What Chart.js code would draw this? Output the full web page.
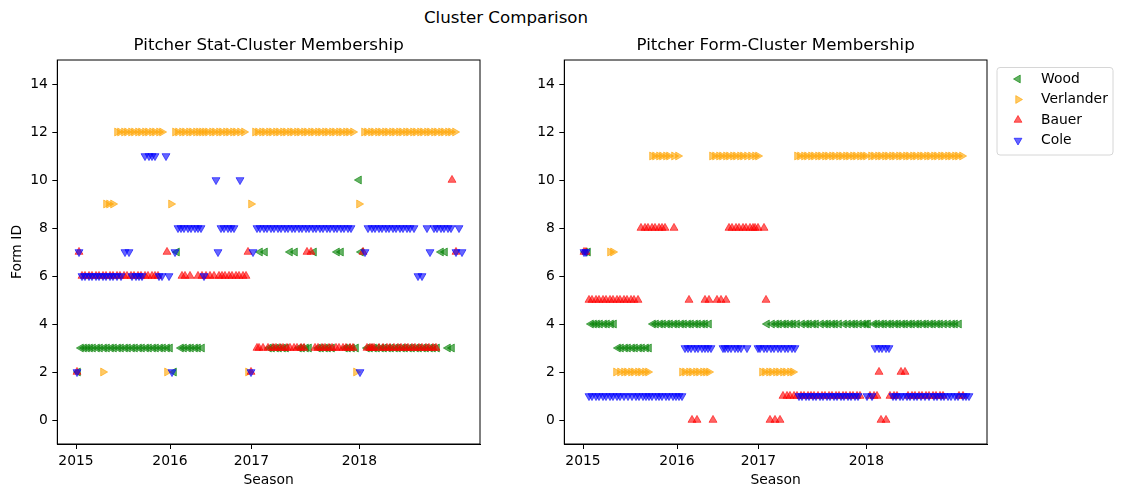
<!DOCTYPE html>
<html>
<head>
<meta charset="utf-8">
<script src="https://cdn.jsdelivr.net/npm/chart.js@4.4.1/dist/chart.umd.min.js"></script>
<style>
html, body { margin: 0; padding: 0; background: #fff; width: 1123px; height: 498px; overflow: hidden; }
#sup { position: absolute; left: 0; top: 8px; width: 1012px; text-align: center; font-family: 'DejaVu Sans', sans-serif; font-size: 16.67px; color: #000; }
#w1 { position: absolute; left: 0; top: 0; width: 500px; height: 498px; }
#w2 { position: absolute; left: 500px; top: 0; width: 623px; height: 498px; }
</style>
</head>
<body>
<div id="sup">Cluster Comparison</div>
<div id="w1"><canvas id="c1"></canvas></div>
<div id="w2"><canvas id="c2"></canvas></div>
<script>
// ---------- data ----------
const seasonTicks = [-2, 92, 173.3, 281.3];
const seasonLabels = ['2015', '2016', '2017', '2018'];
const formTicks = [0, 2, 4, 6, 8, 10, 12, 14];
const pitcherNames = ['Wood', 'Verlander', 'Bauer', 'Cole'];

// start positions (season-ordered game index) for each pitcher
const woodX = [
  0, 3, 6, 9, 12, 15, 19, 22, 26, 29,
  33, 36, 40, 43, 47, 50, 54, 57, 61, 64,
  68, 71, 75, 78, 82, 85, 89, 92,
  96, 99,
  103, 106, 110, 113, 117, 120, 124,
  182, 187,
  191, 194, 198, 201, 205, 208,
  212, 217,
  221, 224, 228, 231,
  236,
  240, 243, 247, 250, 254,
  259, 263,
  267, 270, 274, 278,
  281,
  283,
  289, 292, 296, 299, 303, 306, 310, 313, 317, 320, 324, 327, 331, 334, 338, 341, 345, 348, 352, 355, 359,
  363, 367,
  370, 374
];
const woodStat = [
  2, 3, 3, 3, 3, 3, 3, 3, 3, 3,
  3, 3, 3, 3, 3, 3, 3, 3, 3, 3,
  3, 3, 3, 3, 3, 3, 3, 3,
  2, 7,
  3, 3, 3, 3, 3, 3, 3,
  7, 7,
  3, 3, 3, 3, 3, 3,
  7, 7,
  3, 3, 3, 3,
  7,
  3, 3, 3, 3, 3,
  7, 7,
  3, 3, 3, 3,
  10,
  7,
  3, 3, 3, 3, 3, 3, 3, 3, 3, 3, 3, 3, 3, 3, 3, 3, 3, 3, 3, 3, 3,
  7, 7,
  3, 3
];
const woodForm = [
  7, 7, 4, 4, 4, 4, 4, 4, 4, 4,
  3, 3, 3, 3, 3, 3, 3, 3, 3, 3,
  4, 4, 4, 4, 4, 4, 4, 4,
  4, 4,
  4, 4, 4, 4, 4, 4, 4,
  4, 4,
  4, 4, 4, 4, 4, 4,
  4, 4,
  4, 4, 4, 4,
  4,
  4, 4, 4, 4, 4,
  4, 4,
  4, 4, 4, 4,
  4,
  4,
  4, 4, 4, 4, 4, 4, 4, 4, 4, 4, 4, 4, 4, 4, 4, 4, 4, 4, 4, 4, 4,
  4, 4,
  4, 4
];

const verlanderX = [
  25, 28, 31, 35,
  39, 42, 46, 49, 53, 56, 60, 63,
  67, 70, 74, 77, 81, 84,
  89, 93,
  97, 100, 104, 107, 111, 114, 118, 121, 124,
  127, 130, 134, 137, 141, 144, 148, 151, 155, 158, 162, 166,
  170, 173,
  177, 180, 184, 187, 191, 194, 198, 201, 205, 208,
  212, 215, 219, 222, 226, 229, 233, 236, 240, 243, 247, 250, 254, 257, 261, 264, 268, 271, 275,
  278, 281,
  286, 289, 293, 296, 300, 303, 307, 310, 314, 317, 321, 324, 328, 331, 335, 338, 342, 345, 349, 352, 356, 359, 363, 366, 370, 373, 377
];
const verlanderStat = [
  2, 9, 9, 9,
  12, 12, 12, 12, 12, 12, 12, 12,
  12, 12, 12, 12, 12, 12,
  2, 9,
  12, 12, 12, 12, 12, 12, 12, 12, 12,
  12, 12, 12, 12, 12, 12, 12, 12, 12, 12, 12, 12,
  2, 9,
  12, 12, 12, 12, 12, 12, 12, 12, 12, 12,
  12, 12, 12, 12, 12, 12, 12, 12, 12, 12, 12, 12, 12, 12, 12, 12, 12, 12, 12,
  2, 9,
  12, 12, 12, 12, 12, 12, 12, 12, 12, 12, 12, 12, 12, 12, 12, 12, 12, 12, 12, 12, 12, 12, 12, 12, 12, 12, 12
];
const verlanderForm = [
  7, 7, 2, 2,
  2, 2, 2, 2, 2, 2, 2, 2,
  11, 11, 11, 11, 11, 11,
  11, 11,
  2, 2, 2, 2, 2, 2, 2, 2, 2,
  11, 11, 11, 11, 11, 11, 11, 11, 11, 11, 11, 11,
  11, 11,
  2, 2, 2, 2, 2, 2, 2, 2, 2, 2,
  11, 11, 11, 11, 11, 11, 11, 11, 11, 11, 11, 11, 11, 11, 11, 11, 11, 11, 11,
  11, 11,
  11, 11, 11, 11, 11, 11, 11, 11, 11, 11, 11, 11, 11, 11, 11, 11, 11, 11, 11, 11, 11, 11, 11, 11, 11, 11, 11
];

const bauerX = [
  -1, 1,
  4, 7, 11, 14, 18, 21, 25, 28, 32, 35, 39, 42, 46, 49, 53,
  56, 60, 63, 67, 70, 74, 77, 80,
  89,
  104,
  107, 112,
  120, 124,
  128,
  132, 136, 141,
  144, 147, 151, 154, 158, 161, 165, 168,
  170, 173,
  179,
  181,
  185, 190, 195,
  198, 202, 205, 209, 212, 216, 219, 223, 226,
  229, 233,
  237, 240, 244, 247, 251, 254, 258, 261, 265, 268, 272, 275,
  285,
  289, 292,
  294,
  296, 301,
  305, 309, 312,
  316, 320,
  323, 327, 330, 334, 337, 341, 344, 348, 351, 355, 358,
  374, 378
];
const bauerStat = [
  2, 7,
  6, 6, 6, 6, 6, 6, 6, 6, 6, 6, 6, 6, 6, 6, 6,
  6, 6, 6, 6, 6, 6, 6, 6,
  7,
  6,
  6, 6,
  6, 6,
  6,
  6, 6, 6,
  6, 6, 6, 6, 6, 6, 6, 6,
  7, 2,
  3,
  3,
  3, 3, 3,
  3, 3, 3, 3, 3, 3, 3, 3, 3,
  7, 7,
  3, 3, 3, 3, 3, 3, 3, 3, 3, 3, 3, 3,
  7,
  3, 3,
  3,
  3, 3,
  3, 3, 3,
  3, 3,
  3, 3, 3, 3, 3, 3, 3, 3, 3, 3, 3,
  10, 7
];
const bauerForm = [
  7, 7,
  5, 5, 5, 5, 5, 5, 5, 5, 5, 5, 5, 5, 5, 5, 5,
  8, 8, 8, 8, 8, 8, 8, 8,
  8,
  5,
  0, 0,
  5, 5,
  0,
  5, 5, 5,
  8, 8, 8, 8, 8, 8, 8, 8,
  8, 8,
  8,
  5,
  0, 0, 0,
  1, 1, 1, 1, 1, 1, 1, 1, 1,
  1, 1,
  1, 1, 1, 1, 1, 1, 1, 1, 1, 1, 1, 1,
  1,
  1, 1,
  2,
  0, 0,
  1, 1, 1,
  2, 2,
  1, 1, 1, 1, 1, 1, 1, 1, 1, 1, 1,
  1, 1
];

const coleX = [
  -1, 1,
  4, 7, 11, 14, 18, 21, 25, 28, 32, 35, 39, 43,
  47, 51,
  54, 58, 61, 64,
  67, 71, 74, 77,
  81, 84,
  88,
  91,
  94,
  97,
  100, 103, 106, 110, 113, 117, 120, 123,
  126,
  138,
  140,
  143, 146, 150, 153, 156,
  162,
  173,
  175,
  179, 182, 186, 189, 193, 196, 200, 203, 207, 210, 214, 217, 221, 224, 228, 231, 235, 238, 242, 245, 249, 252, 256, 259, 263, 266, 270, 273,
  282,
  287,
  290, 294, 297, 301, 304, 308, 311, 315, 318, 322, 325, 329, 332, 336,
  340, 344,
  349,
  352,
  356, 359, 363, 366, 370, 373,
  378,
  381,
  384
];
const coleStat = [
  2, 7,
  6, 6, 6, 6, 6, 6, 6, 6, 6, 6, 6, 6,
  7, 7,
  6, 6, 6, 6,
  11, 11, 11, 11,
  6, 6,
  11,
  6,
  2,
  7,
  8, 8, 8, 8, 8, 8, 8, 8,
  6,
  10,
  7,
  8, 8, 8, 8, 8,
  10,
  2,
  7,
  8, 8, 8, 8, 8, 8, 8, 8, 8, 8, 8, 8, 8, 8, 8, 8, 8, 8, 8, 8, 8, 8, 8, 8, 8, 8, 8, 8,
  2,
  7,
  8, 8, 8, 8, 8, 8, 8, 8, 8, 8, 8, 8, 8, 8,
  6, 6,
  8,
  7,
  8, 8, 8, 8, 8, 8,
  7,
  8,
  7
];
const coleForm = [
  7, 7,
  1, 1, 1, 1, 1, 1, 1, 1, 1, 1, 1, 1,
  1, 1,
  1, 1, 1, 1,
  1, 1, 1, 1,
  1, 1,
  1,
  1,
  1,
  1,
  3, 3, 3, 3, 3, 3, 3, 3,
  3,
  3,
  3,
  3, 3, 3, 3, 3,
  3,
  3,
  3,
  3, 3, 3, 3, 3, 3, 3, 3, 3, 3, 1, 1, 1, 1, 1, 1, 1, 1, 1, 1, 1, 1, 1, 1, 1, 1, 1, 1,
  1,
  1,
  3, 3, 3, 3, 3, 1, 1, 1, 1, 1, 1, 1, 1, 1,
  1, 1,
  1,
  1,
  1, 1, 1, 1, 1, 1,
  1,
  1,
  1
];

// ---------- styles ----------
const pitcherColors = ['rgba(0,128,0,0.6)', 'rgba(255,165,0,0.6)', 'rgba(255,0,0,0.6)', 'rgba(0,0,255,0.6)'];
const pitcherRotations = [270, 90, 0, 180];

Chart.defaults.font.family = "'DejaVu Sans', sans-serif";
Chart.defaults.font.size = 13.89;
Chart.defaults.color = '#000';

function makeDatasets(ysList) {
  const xsList = [woodX, verlanderX, bauerX, coleX];
  return pitcherNames.map((name, k) => ({
    label: name,
    data: xsList[k].map((x, i) => ({ x: x, y: ysList[k][i] })),
    pointStyle: 'triangle',
    rotation: pitcherRotations[k],
    pointRadius: 4.6,
    pointHoverRadius: 4.6,
    borderWidth: 1,
    backgroundColor: pitcherColors[k],
    borderColor: pitcherColors[k],
    showLine: false,
    order: 4 - k
  }));
}

function axisGrid() {
  return { display: true, drawOnChartArea: false, drawTicks: true, tickLength: 5, color: '#000', lineWidth: 1 };
}

function makeScales(yTitle, yWidth) {
  return {
    x: {
      type: 'linear', min: -20.7, max: 402,
      afterBuildTicks: s => { s.ticks = seasonTicks.map(v => ({ value: v })); },
      afterFit: s => { s.height = 54; },
      ticks: { autoSkip: false, maxRotation: 0, padding: 4, color: '#000', callback: (v, i) => seasonLabels[i] },
      grid: axisGrid(),
      border: { display: true, color: '#000', width: 1 },
      title: { display: true, text: 'Season', color: '#000', padding: { top: 0, bottom: 9.7 } }
    },
    y: {
      type: 'linear', min: -1, max: 15,
      afterBuildTicks: s => { s.ticks = formTicks.map(v => ({ value: v })); },
      afterFit: s => { s.width = yWidth; },
      ticks: { padding: 4.5, color: '#000', callback: v => String(v) },
      grid: axisGrid(),
      border: { display: true, color: '#000', width: 1 },
      title: { display: !!yTitle, text: yTitle || '', color: '#000', padding: { top: 8.7, bottom: 0 } }
    }
  };
}

const framePlugin = {
  id: 'frame',
  afterDraw(chart) {
    const { ctx, chartArea: a } = chart;
    ctx.save();
    ctx.strokeStyle = '#000';
    ctx.lineWidth = 1;
    ctx.strokeRect(a.left, a.top, a.right - a.left, a.bottom - a.top);
    ctx.restore();
  }
};

function triPath(ctx, x, y, r, rotDeg) {
  let rad = rotDeg * Math.PI / 180;
  ctx.beginPath();
  ctx.moveTo(x + Math.sin(rad) * r, y - Math.cos(rad) * r);
  rad += 2 * Math.PI / 3;
  ctx.lineTo(x + Math.sin(rad) * r, y - Math.cos(rad) * r);
  rad += 2 * Math.PI / 3;
  ctx.lineTo(x + Math.sin(rad) * r, y - Math.cos(rad) * r);
  ctx.closePath();
}

const boxLegend = {
  id: 'boxLegend',
  afterDraw(chart, args, o) {
    if (!o || !o.show) return;
    const ctx = chart.ctx;
    ctx.save();
    const x = o.x, y = o.y, w = o.w, h = o.h, rr = 3;
    ctx.beginPath();
    ctx.moveTo(x + rr, y);
    ctx.lineTo(x + w - rr, y);
    ctx.arcTo(x + w, y, x + w, y + rr, rr);
    ctx.lineTo(x + w, y + h - rr);
    ctx.arcTo(x + w, y + h, x + w - rr, y + h, rr);
    ctx.lineTo(x + rr, y + h);
    ctx.arcTo(x, y + h, x, y + h - rr, rr);
    ctx.lineTo(x, y + rr);
    ctx.arcTo(x, y, x + rr, y, rr);
    ctx.closePath();
    ctx.fillStyle = 'rgba(255,255,255,0.8)';
    ctx.fill();
    ctx.strokeStyle = '#d6d6d6';
    ctx.lineWidth = 1;
    ctx.stroke();
    chart.data.datasets.forEach((ds, i) => {
      const cy = o.y0 + i * o.dy;
      triPath(ctx, o.mx, cy, o.r, ds.rotation);
      ctx.fillStyle = ds.backgroundColor;
      ctx.fill();
      ctx.strokeStyle = ds.borderColor;
      ctx.lineWidth = 1;
      ctx.stroke();
      ctx.fillStyle = '#000';
      ctx.font = "13.89px 'DejaVu Sans', sans-serif";
      ctx.textAlign = 'left';
      ctx.textBaseline = 'middle';
      ctx.fillText(ds.label, o.tx, cy);
    });
    ctx.restore();
  }
};

function makeChart(id, title, ysList, yTitle, yWidth, padRight, legendOpts) {
  return new Chart(document.getElementById(id), {
    type: 'scatter',
    data: { datasets: makeDatasets(ysList) },
    options: {
      responsive: true,
      maintainAspectRatio: false,
      animation: false,
      events: [],
      layout: { padding: { top: 36, left: 0, right: padRight, bottom: 0 } },
      scales: makeScales(yTitle, yWidth),
      plugins: {
        legend: { display: false },
        tooltip: { enabled: false },
        title: {
          display: true, text: title, fullSize: false, color: '#000',
          font: { size: 16.67, weight: 'normal' },
          padding: { top: 0, bottom: 4 }
        },
        boxLegend: legendOpts
      }
    },
    plugins: [framePlugin, boxLegend]
  });
}

makeChart('c1', 'Pitcher Stat-Cluster Membership',
  [woodStat, verlanderStat, bauerStat, coleStat], 'Form ID', 57.3, 20, { show: false });
makeChart('c2', 'Pitcher Form-Cluster Membership',
  [woodForm, verlanderForm, bauerForm, coleForm], '', 64.3, 136,
  { show: true, x: 497, y: 67.5, w: 116, h: 87.5, mx: 518, tx: 541, y0: 79, dy: 20.5, r: 4.5 });
</script>
</body>
</html>
